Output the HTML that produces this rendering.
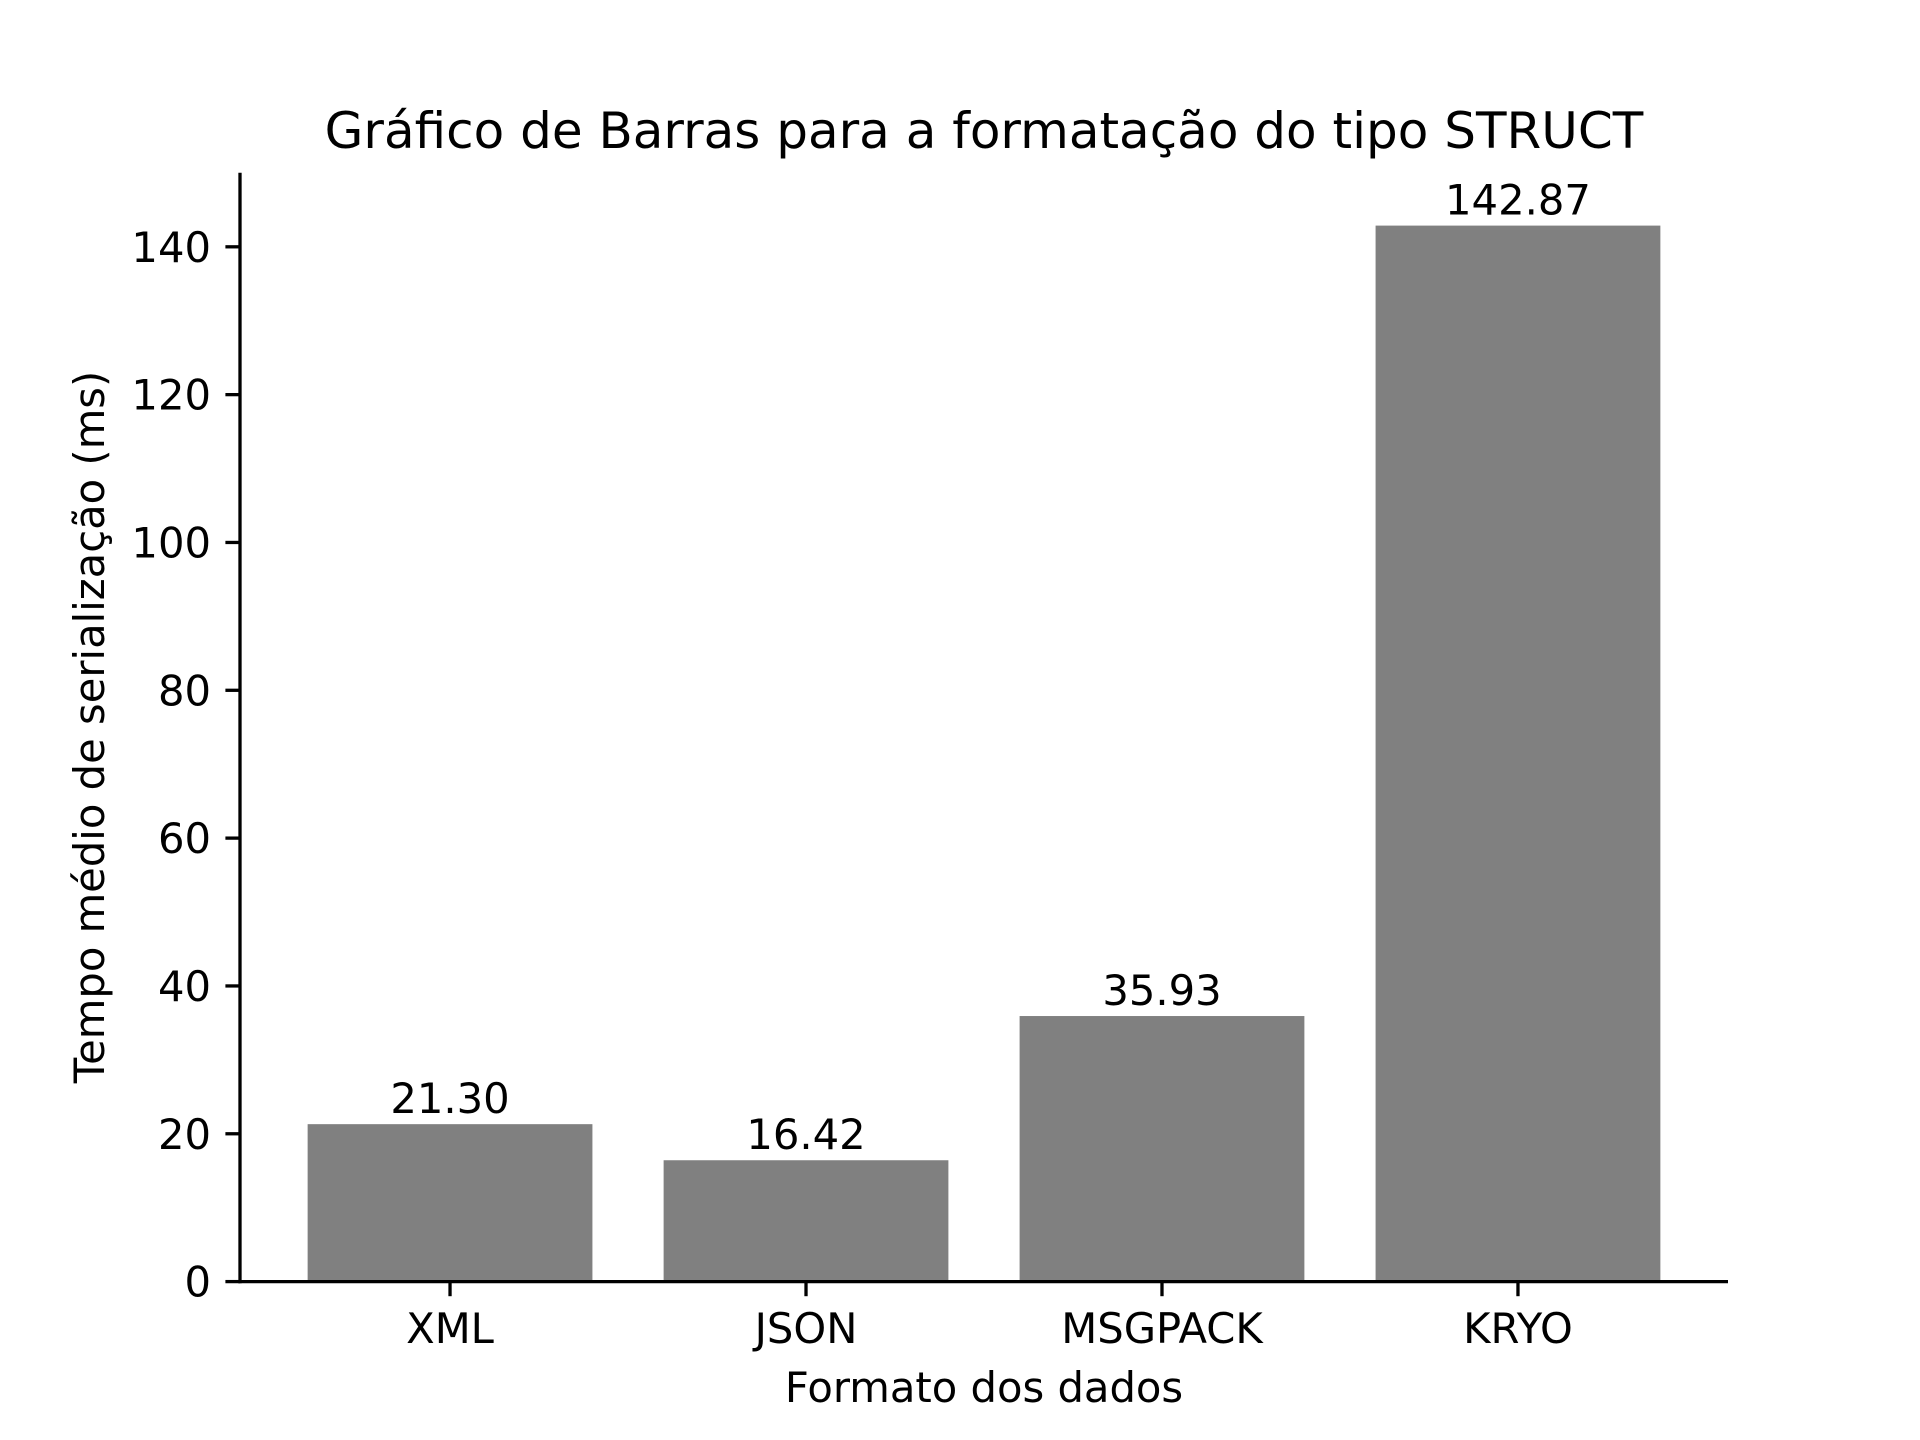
<!DOCTYPE html>
<html><head><meta charset="utf-8"><style>
html,body{margin:0;padding:0;background:#fff}
svg{display:block}
text{font-family:"DejaVu Sans","Liberation Sans",sans-serif;fill:#000}
</style></head><body>
<svg id="chart" width="1920" height="1440" viewBox="0 0 1920 1440" xmlns="http://www.w3.org/2000/svg">
<rect width="1920" height="1440" fill="#fff"/>
<text x="984" y="148" font-size="50" text-anchor="middle">Gráfico de Barras para a formatação do tipo STRUCT</text>
<g id="bars"></g>
<g id="yticks"></g>
<g id="xticks"></g>
<line x1="240" y1="172.8" x2="240" y2="1283.2" stroke="#000" stroke-width="3.3"/>
<line x1="238.4" y1="1281.6" x2="1728" y2="1281.6" stroke="#000" stroke-width="3.3"/>
<text x="984" y="1402" font-size="41.7" text-anchor="middle">Formato dos dados</text>
<text transform="translate(104,727) rotate(-90)" x="0" y="0" font-size="41.7" text-anchor="middle">Tempo médio de serialização (ms)</text>
</svg>
<script>
const categories = ["XML", "JSON", "MSGPACK", "KRYO"];
const values = [21.30, 16.42, 35.93, 142.87];
const valueLabels = ["21.30", "16.42", "35.93", "142.87"];
const yTicks = [0, 20, 40, 60, 80, 100, 120, 140];

const NS = "http://www.w3.org/2000/svg";
const L = 240, R = 1728, T = 172.8, B = 1281.6;
const xMin = -0.59, xMax = categories.length - 1 + 0.59;
const yMax = Math.max(...values) * 1.05;
function xs(v){ return L + (v - xMin) / (xMax - xMin) * (R - L); }
function ys(v){ return B - v / yMax * (B - T); }
function mk(tag, attrs, parent){ const e = document.createElementNS(NS, tag); for (const k in attrs) e.setAttribute(k, attrs[k]); parent.appendChild(e); return e; }

const gb = document.getElementById("bars");
const gx = document.getElementById("xticks");
const gy = document.getElementById("yticks");
categories.forEach((c, i) => {
  const x0 = xs(i - 0.4), x1 = xs(i + 0.4), y = ys(values[i]);
  const r = mk("rect", {x: x0, y: y, width: x1 - x0, height: B - y, fill: "#808080"}, gb);
  
  
  const t = mk("text", {x: xs(i), y: y - 11, "font-size": 41.7, "text-anchor": "middle"}, gb);
  t.textContent = valueLabels[i];
  
  
  const tk = mk("line", {x1: xs(i), x2: xs(i), y1: B, y2: B + 14.6, stroke: "#000", "stroke-width": 3.3}, gx);
  
  
  const tl = mk("text", {x: xs(i), y: 1343, "font-size": 41.7, "text-anchor": "middle"}, gx);
  tl.textContent = c;
  
  
});
yTicks.forEach(v => {
  const y = ys(v);
  const tk = mk("line", {x1: L - 14.6, x2: L, y1: y, y2: y, stroke: "#000", "stroke-width": 3.3}, gy);
  
  
  const tl = mk("text", {x: 211, y: y + 15, "font-size": 41.7, "text-anchor": "end"}, gy);
  tl.textContent = v;
  
  
});
</script>
</body></html>
